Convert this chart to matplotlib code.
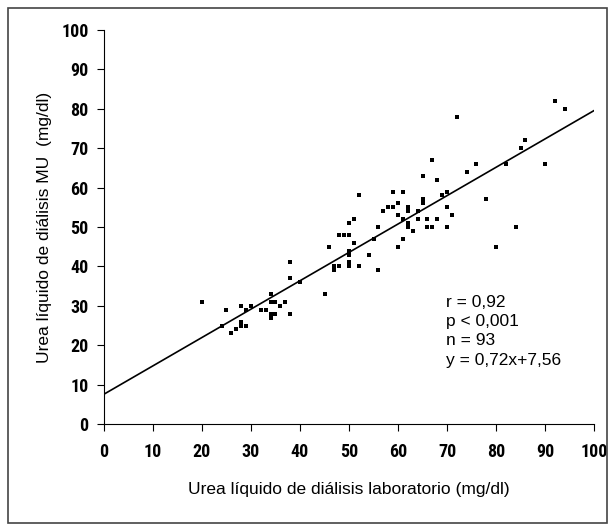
import matplotlib
matplotlib.use('Agg')
from matplotlib import pyplot as plt
from matplotlib.patches import Rectangle
import numpy as np

# urea in dialysis fluid: laboratory (x) vs MU (y), mg/dl
lab_urea = [20, 24, 25, 26, 27, 28, 28, 28, 29, 29, 30, 32, 33, 34, 34, 34, 34,
            35, 35, 36, 37, 38, 38, 38, 40, 45, 46, 47, 47, 48, 48, 49, 50, 50,
            50, 50, 50, 50, 51, 51, 52, 52, 54, 55, 56, 56, 57, 58, 59, 59, 60,
            60, 60, 61, 61, 61, 62, 62, 62, 62, 63, 64, 64, 65, 65, 65, 66, 66,
            67, 67, 68, 68, 69, 70, 70, 70, 71, 72, 74, 76, 78, 80, 82, 84, 85,
            86, 90, 92, 94]
mu_urea = [31, 25, 29, 23, 24, 30, 26, 25, 29, 25, 30, 29, 29, 33, 31, 27, 28,
           31, 28, 30, 31, 41, 37, 28, 36, 33, 45, 39, 40, 40, 48, 48, 48, 51,
           43, 44, 41, 40, 52, 46, 58, 40, 43, 47, 50, 39, 54, 55, 55, 59, 56,
           53, 45, 59, 52, 47, 55, 54, 51, 50, 49, 54, 52, 63, 57, 56, 52, 50,
           67, 50, 62, 52, 58, 59, 55, 50, 53, 78, 64, 66, 57, 45, 66, 50, 70,
           72, 66, 82, 80]

slope = 0.72
intercept = 7.56
stats_lines = ['r = 0,92', 'p < 0,001', 'n = 93', 'y = 0,72x+7,56']
ticks = list(range(0, 101, 10))

plt.rcParams['font.family'] = ['Liberation Sans', 'DejaVu Sans']
narrow = ['Roboto Condensed', 'Liberation Sans', 'DejaVu Sans']

fig = plt.figure(figsize=(6.15, 5.31), dpi=100)
fig.patches.append(Rectangle((8 / 615, 8 / 531), 599 / 615, 515 / 531,
                             transform=fig.transFigure, fill=False,
                             edgecolor='#444444', linewidth=1.2))

ax = fig.add_axes([0.169, 0.2015, 0.797, 0.742])
ax.scatter(lab_urea, mu_urea, marker='s', s=10, color='black', linewidths=0)

xs = np.array([0, 100])
ax.plot(xs, slope * xs + intercept, color='black', linewidth=1.2)

ax.set_xlim(0, 100)
ax.set_ylim(0, 100)
ax.set_xticks(ticks)
ax.set_yticks(ticks)
ax.set_xticklabels([str(t) for t in ticks], family=narrow, fontweight='bold',
                   fontsize=13)
ax.set_yticklabels([str(t) for t in ticks], family=narrow, fontweight='bold',
                   fontsize=13)
ax.spines['top'].set_visible(False)
ax.spines['right'].set_visible(False)
ax.spines['left'].set_linewidth(0.8)
ax.spines['bottom'].set_linewidth(0.8)
ax.tick_params(axis='both', direction='out', length=5, width=0.8)
ax.tick_params(axis='x', pad=9)
ax.tick_params(axis='y', pad=6)

ax.set_xlabel('Urea líquido de diálisis laboratorio (mg/dl)', fontsize=12.5,
              labelpad=15)
ax.set_ylabel('Urea líquido de diálisis MU  (mg/dl)', fontsize=12.5,
              labelpad=7)

for i, line in enumerate(stats_lines):
    ax.text(0.697, 0.309 - i * 0.049, line, transform=ax.transAxes,
            fontsize=12.5, va='center', ha='left')

fig.savefig('out.png', dpi=100)
